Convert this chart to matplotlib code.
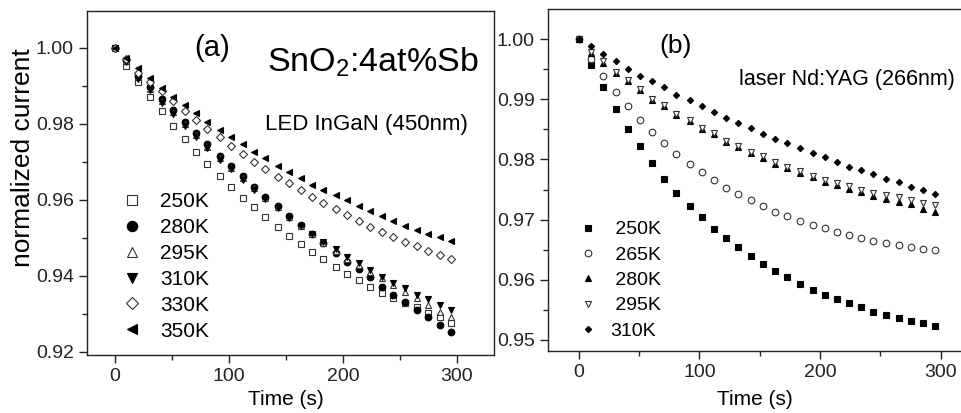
import matplotlib
matplotlib.use("Agg")
import matplotlib.pyplot as plt
from matplotlib.ticker import MultipleLocator

plt.rcParams['font.family'] = ['Liberation Sans', 'DejaVu Sans']
plt.rcParams['mathtext.fontset'] = 'custom'
plt.rcParams['mathtext.rm'] = 'Liberation Sans'
plt.rcParams['mathtext.it'] = 'Liberation Sans:italic'

# ---------------- data ----------------
time_s = [0, 10, 20, 31, 41, 51, 61, 71, 81, 92, 102, 112, 122, 132, 143,
          153, 163, 173, 183, 194, 204, 214, 224, 234, 244, 255, 265, 275, 285, 295]

# panel (a): LED InGaN (450 nm)
a_labels = ['250K', '280K', '295K', '310K', '330K', '350K']
a_250 = [1.000, 0.9952, 0.9909, 0.9871, 0.9833, 0.9794, 0.9760, 0.9725, 0.9693, 0.9662,
         0.9634, 0.9605, 0.9580, 0.9554, 0.9529, 0.9505, 0.9483, 0.9462, 0.9443, 0.9424,
         0.9404, 0.9389, 0.9371, 0.9355, 0.9340, 0.9329, 0.9318, 0.9303, 0.9292, 0.9276]
a_280 = [1.000, 0.9968, 0.9925, 0.9896, 0.9865, 0.9836, 0.9805, 0.9775, 0.9746, 0.9715,
         0.9689, 0.9662, 0.9634, 0.9608, 0.9584, 0.9556, 0.9533, 0.9509, 0.9485, 0.9459,
         0.9437, 0.9417, 0.9396, 0.9371, 0.9349, 0.9330, 0.9310, 0.9290, 0.9270, 0.9251]
a_295 = [1.000, 0.9965, 0.9922, 0.9892, 0.9860, 0.9830, 0.9800, 0.9770, 0.9740, 0.9710,
         0.9684, 0.9657, 0.9630, 0.9605, 0.9581, 0.9555, 0.9532, 0.9509, 0.9486, 0.9465,
         0.9445, 0.9427, 0.9410, 0.9393, 0.9376, 0.9358, 0.9340, 0.9323, 0.9305, 0.9292]
a_310 = [1.000, 0.9962, 0.9918, 0.9888, 0.9855, 0.9825, 0.9794, 0.9764, 0.9735, 0.9705,
         0.9680, 0.9653, 0.9626, 0.9602, 0.9578, 0.9553, 0.9531, 0.9509, 0.9489, 0.9469,
         0.9450, 0.9433, 0.9415, 0.9397, 0.9382, 0.9367, 0.9349, 0.9339, 0.9323, 0.9310]
a_330 = [1.000, 0.9970, 0.9934, 0.9911, 0.9887, 0.9860, 0.9833, 0.9810, 0.9785, 0.9764,
         0.9741, 0.9720, 0.9700, 0.9680, 0.9661, 0.9643, 0.9625, 0.9608, 0.9592, 0.9575,
         0.9560, 0.9545, 0.9529, 0.9516, 0.9503, 0.9489, 0.9478, 0.9466, 0.9454, 0.9443]
a_350 = [1.000, 0.9972, 0.9946, 0.9921, 0.9893, 0.9871, 0.9849, 0.9827, 0.9805, 0.9783,
         0.9764, 0.9746, 0.9726, 0.9709, 0.9689, 0.9672, 0.9656, 0.9640, 0.9625, 0.9612,
         0.9599, 0.9584, 0.9571, 0.9558, 0.9545, 0.9532, 0.9520, 0.9511, 0.9501, 0.9491]

# panel (b): laser Nd:YAG (266 nm)
b_labels = ['250K', '265K', '280K', '295K', '310K']
b_250 = [1.000, 0.9957, 0.9920, 0.9884, 0.9851, 0.9822, 0.9794, 0.9768, 0.9745, 0.9723,
         0.9704, 0.9685, 0.9669, 0.9654, 0.9640, 0.9627, 0.9615, 0.9604, 0.9593, 0.9583,
         0.9575, 0.9568, 0.9561, 0.9554, 0.9547, 0.9542, 0.9536, 0.9532, 0.9529, 0.9524]
b_265 = [1.000, 0.9967, 0.9938, 0.9912, 0.9888, 0.9866, 0.9845, 0.9827, 0.9809, 0.9793,
         0.9779, 0.9766, 0.9753, 0.9742, 0.9732, 0.9722, 0.9713, 0.9706, 0.9698, 0.9691,
         0.9686, 0.9679, 0.9674, 0.9670, 0.9665, 0.9661, 0.9657, 0.9654, 0.9651, 0.9649]
b_280 = [1.000, 0.9976, 0.9961, 0.9944, 0.9930, 0.9915, 0.9899, 0.9888, 0.9874, 0.9863,
         0.9851, 0.9842, 0.9829, 0.9821, 0.9811, 0.9802, 0.9792, 0.9785, 0.9777, 0.9770,
         0.9763, 0.9757, 0.9751, 0.9746, 0.9740, 0.9734, 0.9730, 0.9726, 0.9717, 0.9713]
b_295 = [1.000, 0.9978, 0.9963, 0.9946, 0.9932, 0.9917, 0.9901, 0.9890, 0.9876, 0.9865,
         0.9853, 0.9844, 0.9831, 0.9823, 0.9813, 0.9805, 0.9795, 0.9788, 0.9780, 0.9772,
         0.9766, 0.9761, 0.9756, 0.9749, 0.9745, 0.9741, 0.9737, 0.9733, 0.9727, 0.9724]
b_310 = [1.000, 0.9988, 0.9975, 0.9963, 0.9951, 0.9939, 0.9930, 0.9920, 0.9907, 0.9899,
         0.9889, 0.9879, 0.9869, 0.9860, 0.9852, 0.9843, 0.9834, 0.9827, 0.9819, 0.9810,
         0.9804, 0.9795, 0.9788, 0.9782, 0.9776, 0.9768, 0.9762, 0.9755, 0.9749, 0.9743]

# ---------------- figure ----------------
W, H = 962, 413
fig = plt.figure(figsize=(W / 100, H / 100), dpi=100)

def px_axes(l, r, t, b):
    return fig.add_axes([l / W, (H - b) / H, (r - l) / W, (b - t) / H])

axA = px_axes(87, 494, 11, 355)
axB = px_axes(548, 980, 9, 351)

EDGE = '#333333'

def style(ax):
    for s in ax.spines.values():
        s.set_linewidth(1.0)
        s.set_color('#222222')
    ax.tick_params(which='major', direction='out', length=6, width=1.0,
                   labelsize=14, colors='#222222', top=False, right=False)
    ax.tick_params(which='minor', direction='out', length=3.5, width=1.0,
                   top=False, right=False, colors='#222222')
    ax.xaxis.set_major_locator(MultipleLocator(100))
    ax.xaxis.set_minor_locator(MultipleLocator(50))

# ---- panel (a) ----
sa = [
    dict(y=a_250, marker='s', ms=4.3, mfc='white', mec=EDGE),
    dict(y=a_280, marker='o', ms=4.8, mfc='black', mec='black'),
    dict(y=a_295, marker='^', ms=5.0, mfc='white', mec=EDGE),
    dict(y=a_310, marker='v', ms=5.0, mfc='black', mec='black'),
    dict(y=a_330, marker='D', ms=3.7, mfc='white', mec=EDGE),
    dict(y=a_350, marker='<', ms=5.0, mfc='black', mec='black'),
]
for lab, s in zip(a_labels, sa):
    axA.plot(time_s, s['y'], linestyle='none', marker=s['marker'], ms=s['ms'],
             mfc=s['mfc'], mec=s['mec'], mew=0.8, label=lab)

style(axA)
axA.set_xlim(-24.6, 332.7)
axA.set_ylim(0.91913, 1.00966)
axA.yaxis.set_major_locator(MultipleLocator(0.02))
axA.yaxis.set_minor_locator(MultipleLocator(0.01))
axA.yaxis.set_major_formatter(matplotlib.ticker.FormatStrFormatter('%.2f'))
axA.set_xlabel('Time (s)', fontsize=15)
axA.xaxis.label.set_va('center')
axA.xaxis.set_label_coords(0.489, -0.128)
axA.set_ylabel('normalized current', fontsize=19)
axA.yaxis.label.set_va('center')
axA.yaxis.set_label_coords(-0.157, 0.574)

axA.text(0.308, 0.8916, '(a)', transform=axA.transAxes, fontsize=21,
         ha='center', va='center')
axA.text(0.4415, 0.8236, 'SnO$_\\mathrm{2}$:4at%Sb', transform=axA.transAxes,
         fontsize=24.5, ha='left', va='baseline')
axA.text(0.437, 0.654, 'LED InGaN (450nm)', transform=axA.transAxes,
         fontsize=16, ha='left', va='baseline')

axA.legend(loc='upper left', bbox_to_anchor=(0.0843, 0.473), frameon=False,
           fontsize=15, markerscale=1.55, handlelength=1.0, handletextpad=0.86,
           labelspacing=0.33, borderpad=0, borderaxespad=0)

# ---- panel (b) ----
sb = [
    dict(y=b_250, marker='s', ms=4.3, mfc='black', mec='black'),
    dict(y=b_265, marker='o', ms=4.8, mfc='white', mec=EDGE),
    dict(y=b_280, marker='^', ms=4.8, mfc='black', mec='black'),
    dict(y=b_295, marker='v', ms=4.8, mfc='white', mec=EDGE),
    dict(y=b_310, marker='D', ms=3.2, mfc='black', mec='black'),
]
b_leg = [' ' + l for l in b_labels[:-1]] + [b_labels[-1]]
for lab, s in zip(b_leg, sb):
    axB.plot(time_s, s['y'], linestyle='none', marker=s['marker'], ms=s['ms'],
             mfc=s['mfc'], mec=s['mec'], mew=0.8, label=lab)

style(axB)
axB.set_xlim(-25.4, 332.5)
axB.set_ylim(0.94817, 1.00499)
axB.yaxis.set_major_locator(MultipleLocator(0.01))
axB.yaxis.set_minor_locator(MultipleLocator(0.005))
axB.yaxis.set_major_formatter(matplotlib.ticker.FormatStrFormatter('%.2f'))
axB.set_xlabel('Time (s)', fontsize=15)
axB.xaxis.label.set_va('center')
axB.xaxis.set_label_coords(0.479, -0.142)

axB.text(0.296, 0.8926, '(b)', transform=axB.transAxes, fontsize=19,
         ha='center', va='center')
axB.text(0.4418, 0.778, 'laser Nd:YAG (266nm)', transform=axB.transAxes,
         fontsize=15.5, ha='left', va='baseline')

axB.legend(loc='upper left', bbox_to_anchor=(0.070, 0.381), frameon=False,
           fontsize=14, markerscale=1.0, handlelength=1.0, handletextpad=0.63,
           labelspacing=0.40, borderpad=0, borderaxespad=0)

fig.savefig('out.png', dpi=100)
